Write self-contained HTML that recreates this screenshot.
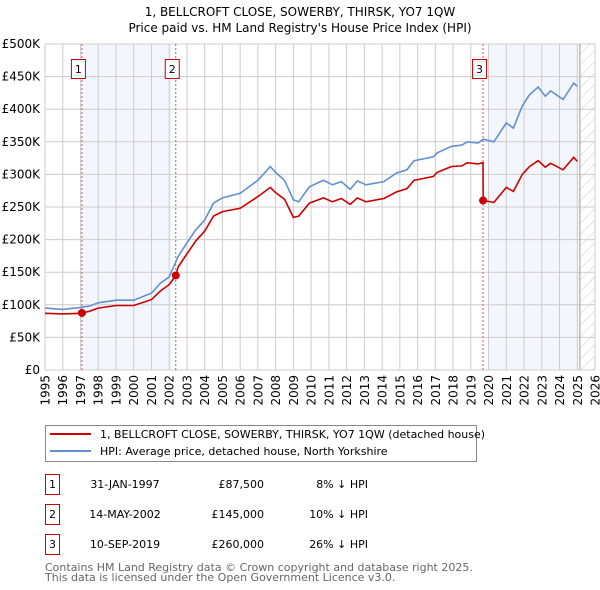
<!DOCTYPE html>
<html><head><meta charset="utf-8">
<style>
body{margin:0;background:#fff;font-family:"DejaVu Sans","Liberation Sans",sans-serif;}
#wrap{position:relative;width:600px;height:590px;overflow:hidden;}
svg text{font-family:"DejaVu Sans","Liberation Sans",sans-serif;}
</style></head><body>
<div id="wrap">
<svg id="chart" width="600" height="590"></svg>
</div>
<script>
const hpiYears=[1995,1996,1997,1997.5,1998,1999,2000,2001,2001.5,2002,2002.5,2003,2003.5,2004,2004.5,2005,2006,2007,2007.7,2008,2008.5,2009,2009.3,2009.9,2010.7,2011.2,2011.7,2012.2,2012.6,2013.1,2014.1,2014.8,2015.4,2015.8,2016.9,2017.1,2017.9,2018.5,2018.8,2019.4,2019.7,2020.3,2021.0,2021.4,2021.9,2022.3,2022.8,2023.2,2023.5,2024.2,2024.8,2025.0];
const hpiValues=[95000,93000,96000,98000,103000,107000,107000,118000,133000,143000,174000,195000,215000,230000,256000,264000,271000,291000,312000,303000,291000,261000,258000,281000,291000,284000,289000,277000,290000,284000,289000,302000,307000,321000,327000,333000,343000,345000,350000,348000,354000,350000,379000,371000,405000,422000,434000,420000,428000,415000,440000,435000];
const priceYears=[1995,1996,1997,1997.08,1997.5,1998,1999,2000,2001,2001.5,2002,2002.37,2002.5,2003,2003.5,2004,2004.5,2005,2006,2007,2007.7,2008,2008.5,2009,2009.3,2009.9,2010.7,2011.2,2011.7,2012.2,2012.6,2013.1,2014.1,2014.8,2015.4,2015.8,2016.9,2017.1,2017.9,2018.5,2018.8,2019.4,2019.69,2019.7,2020.3,2021.0,2021.4,2021.9,2022.3,2022.8,2023.2,2023.5,2024.2,2024.8,2025.0];
const priceValues=[87000,86000,87000,87500,90000,95000,99000,99000,108000,121000,131000,145000,158000,178000,198000,213000,236000,243000,248000,266000,280000,272000,262000,234000,236000,256000,264000,258000,263000,254000,264000,258000,263000,273000,278000,291000,297000,303000,312000,313000,318000,316000,318000,260000,257000,280000,274000,300000,312000,321000,311000,317000,307000,326000,320000];
const saleLabels=["1","2","3"];
const saleYears=[1997.08,2002.37,2019.69];
const salePrices=[87500,145000,260000];
const yTicks=[0,50000,100000,150000,200000,250000,300000,350000,400000,450000,500000];
const yTickLabels=["£0","£50K","£100K","£150K","£200K","£250K","£300K","£350K","£400K","£450K","£500K"];
const xTicks=[1995,1996,1997,1998,1999,2000,2001,2002,2003,2004,2005,2006,2007,2008,2009,2010,2011,2012,2013,2014,2015,2016,2017,2018,2019,2020,2021,2022,2023,2024,2025,2026];

const L=45,R=595,T=44,B=370,X0=1995,X1=2026,YMAX=500000;
const sx=v=>L+(v-X0)/(X1-X0)*(R-L);
const sy=v=>B-v/YMAX*(B-T);
const NS="http://www.w3.org/2000/svg";
const svg=document.getElementById('chart');
function mk(tag,attrs,parent){const e=document.createElementNS(NS,tag);for(const k in attrs)e.setAttribute(k,attrs[k]);(parent||svg).appendChild(e);return e;}

let t=mk('text',{x:300,y:16,'text-anchor':'middle','font-size':12,fill:'#000'});t.textContent="1, BELLCROFT CLOSE, SOWERBY, THIRSK, YO7 1QW";


t=mk('text',{x:300,y:32,'text-anchor':'middle','font-size':12,fill:'#000'});t.textContent="Price paid vs. HM Land Registry's House Price Index (HPI)";



let r=mk('rect',{x:sx(1997.08),y:T,width:sx(2002.1)-sx(1997.08),height:B-T,fill:'#eef3fc',opacity:0.7});


r=mk('rect',{x:sx(2020.0),y:T,width:sx(2025.1)-sx(2020.0),height:B-T,fill:'#eef3fc',opacity:0.7});


const defs=mk('defs',{});
const pat=mk('pattern',{id:'hatch',width:8,height:8,patternUnits:'userSpaceOnUse',patternTransform:'rotate(45)'},defs);
mk('line',{x1:0,y1:0,x2:0,y2:8,stroke:'#ccc','stroke-width':1},pat);
r=mk('rect',{x:sx(2025.15),y:T,width:R-sx(2025.15),height:B-T,fill:'url(#hatch)'});



const grid=mk('g',{});


yTicks.forEach((v,i)=>{
  mk('line',{x1:L,x2:R,y1:sy(v),y2:sy(v),stroke:'#cccccc','stroke-width':1},grid);
  const tx=mk('text',{x:L-5,y:sy(v)+4,'text-anchor':'end','font-size':12,fill:'#000'});
  tx.textContent=yTickLabels[i];
  
  
});
xTicks.forEach(v=>{
  mk('line',{x1:sx(v),x2:sx(v),y1:T,y2:B,stroke:'#cccccc','stroke-width':1},grid);
  const x=sx(v)+4.5,y=B+5;
  const tx=mk('text',{x:x,y:y,'text-anchor':'end','font-size':12,fill:'#000',transform:'rotate(-90 '+x+' '+y+')'});
  tx.textContent=v;
  
  
});
mk('line',{x1:sx(2025.15),x2:sx(2025.15),y1:T,y2:B,stroke:'#999','stroke-width':1});

saleYears.forEach((y,i)=>{
  const ln=mk('line',{x1:sx(y),x2:sx(y),y1:T,y2:B,stroke:'#e05050','stroke-width':1,'stroke-dasharray':'2,2'});
  
  
  const bx=mk('rect',{x:sx(y)-10.5,y:59.5,width:14,height:19,fill:'#fff',stroke:'#cc0000','stroke-width':1});
  
  
  const tx=mk('text',{x:sx(y)-3.5,y:73,'text-anchor':'middle','font-size':11,fill:'#000'});
  tx.textContent=saleLabels[i];
  
  
});

function path(xs,ys){return xs.map((x,i)=>(i?'L':'M')+sx(x).toFixed(1)+','+sy(ys[i]).toFixed(1)).join('');}
let p=mk('path',{d:path(hpiYears,hpiValues),fill:'none',stroke:'#6090d0','stroke-width':1.6});


p=mk('path',{d:path(priceYears,priceValues),fill:'none',stroke:'#cc0000','stroke-width':1.6});


saleYears.forEach((y,i)=>{
  const c=mk('circle',{cx:sx(y),cy:sy(salePrices[i]),r:4,fill:'#cc0000'});
  
  
});

const lg=mk('g',{});


mk('rect',{x:45.5,y:425.5,width:431,height:36,fill:'#fff',stroke:'#888','stroke-width':1},lg);
mk('line',{x1:50,x2:91,y1:434,y2:434,stroke:'#cc0000','stroke-width':2},lg);
mk('line',{x1:50,x2:91,y1:451,y2:451,stroke:'#6090d0','stroke-width':2},lg);
t=mk('text',{x:100,y:438,'font-size':11,fill:'#000'},lg);t.textContent="1, BELLCROFT CLOSE, SOWERBY, THIRSK, YO7 1QW (detached house)";


t=mk('text',{x:100,y:455,'font-size':11,fill:'#000'},lg);t.textContent="HPI: Average price, detached house, North Yorkshire";



const dates=["31-JAN-1997","14-MAY-2002","10-SEP-2019"];
const prices=["£87,500","£145,000","£260,000"];
const diffs=["8% ↓ HPI","10% ↓ HPI","26% ↓ HPI"];
[0,1,2].forEach(i=>{
  const y=488+i*30;
  const g=mk('g',{});
  
  
  mk('rect',{x:45.5,y:y-13.5,width:14,height:20,fill:'#fff',stroke:'#cc0000','stroke-width':1},g);
  let a=mk('text',{x:52.5,y:y,'text-anchor':'middle','font-size':11},g);a.textContent=saleLabels[i];
  a=mk('text',{x:125,y:y,'text-anchor':'middle','font-size':11},g);a.textContent=dates[i];
  a=mk('text',{x:264,y:y,'text-anchor':'end','font-size':11},g);a.textContent=prices[i];
  a=mk('text',{x:368,y:y,'text-anchor':'end','font-size':11},g);a.textContent=diffs[i];
});
t=mk('text',{x:45,y:571,'font-size':11,fill:'#666'});t.textContent="Contains HM Land Registry data © Crown copyright and database right 2025.";


t=mk('text',{x:45,y:581,'font-size':11,fill:'#666'});t.textContent="This data is licensed under the Open Government Licence v3.0.";


</script>
</body></html>
